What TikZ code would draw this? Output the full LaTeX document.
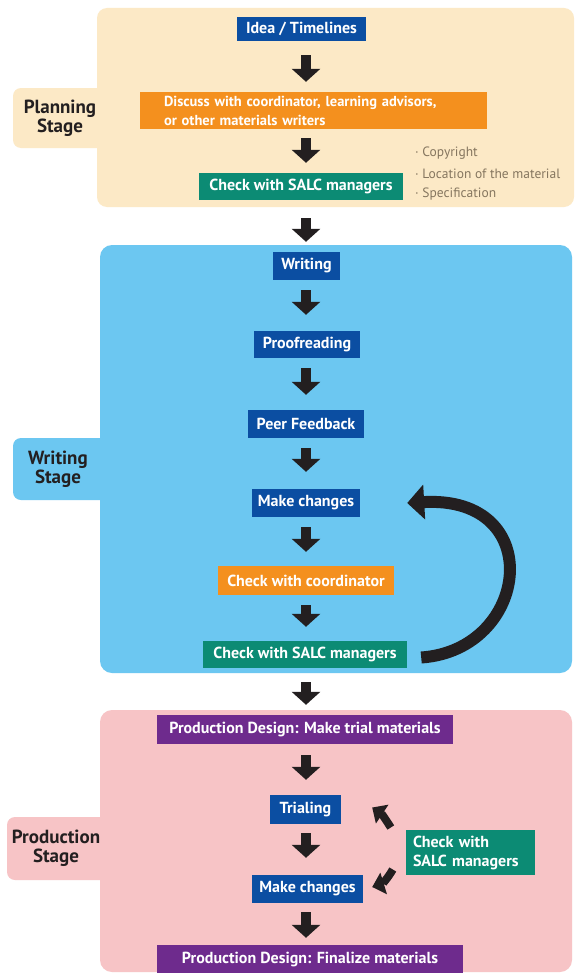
\documentclass[tikz,border=0pt]{standalone}
\usepackage{fontspec}
\setmainfont{PT Sans}
\usetikzlibrary{arrows.meta,calc}
\definecolor{planbg}{HTML}{FCE9C6}
\definecolor{writebg}{HTML}{6CC7F1}
\definecolor{prodbg}{HTML}{F7C4C6}
\definecolor{bluebox}{HTML}{0B4EA2}
\definecolor{orangebox}{HTML}{F4901E}
\definecolor{tealbox}{HTML}{0C8B74}
\definecolor{purplebox}{HTML}{6E2B8D}
\definecolor{darkarrow}{HTML}{231F20}
\definecolor{notegray}{HTML}{85765F}
\tikzset{
  box/.style={rectangle, inner sep=0pt, text=white, font=\bfseries\fontsize{16}{18}\selectfont},
  bluebx/.style={box, fill=bluebox},
  orangebx/.style={box, fill=orangebox},
  tealbx/.style={box, fill=tealbox},
  purplebx/.style={box, fill=purplebox},
  stagelabel/.style={align=center, text=darkarrow, font=\bfseries\fontsize{19}{19}\selectfont},
  blk/.style={draw=darkarrow, line width=10pt, -{Triangle[width=28pt,length=13pt]}, darkarrow},
  bigarr/.style={draw=darkarrow, line width=12pt, -{Triangle[width=34pt,length=17pt]}, darkarrow},
  smallarr/.style={draw=darkarrow, line width=8pt, -{Triangle[width=22pt,length=12pt]}, darkarrow},
  note/.style={anchor=west, text=notegray, font=\fontsize{13.5}{15}\selectfont, inner sep=0pt}
}
\begin{document}
\begin{tikzpicture}[x=1pt,y=-1pt]
\useasboundingbox (0,0) rectangle (574,974);
\fill[white] (0,0) rectangle (574,974);
% panels
\fill[planbg, rounded corners=10pt] (97,8) rectangle (574,207);
\fill[planbg, rounded corners=8pt] (13,88) rectangle (110,148);
\fill[writebg, rounded corners=12pt] (100,245) rectangle (572,673);
\fill[writebg, rounded corners=8pt] (13,438) rectangle (110,500);
\fill[prodbg, rounded corners=12pt] (100,710) rectangle (572,972);
\fill[prodbg, rounded corners=8pt] (7,817) rectangle (110,880);
% stage labels
\node[stagelabel] (lplan) at (60,118) {Planning\\Stage};
\node[stagelabel] (lwrite) at (58,469) {Writing\\Stage};
\node[stagelabel] (lprod) at (56,848) {Production\\Stage};
% column for arrows
\coordinate (col) at (306,0);
% planning
\node[bluebx, minimum width=129pt, minimum height=24pt] (idea) at (301.5,29) {Idea / Timelines};
\node[orangebx, minimum width=347pt, minimum height=37pt, text width=299pt, inner xsep=24pt, align=left,
      font=\bfseries\fontsize{14.5}{19}\selectfont] (discuss) at (313.5,110.5)
      {Discuss with coordinator, learning advisors,\\or other materials writers};
\node[tealbx, minimum width=204pt, minimum height=27pt] (salc1) at (301,186.5) {Check with SALC managers};
\node[note] (n1) at (415,153) {· Copyright};
\node[note] (n2) at (415,174) {· Location of the material};
\node[note] (n3) at (415,194) {· Specification};
% writing
\node[bluebx, minimum width=67pt, minimum height=28pt] (writing) at (306.5,266) {Writing};
\node[bluebx, minimum width=106pt, minimum height=27pt] (proof) at (307,344.5) {Proofreading};
\node[bluebx, minimum width=116pt, minimum height=28pt] (peer) at (306,424) {Peer Feedback};
\node[bluebx, minimum width=108pt, minimum height=28pt] (make1) at (306,503) {Make changes};
\node[orangebx, minimum width=176pt, minimum height=29pt] (coord) at (306,580.5) {Check with coordinator};
\node[tealbx, minimum width=204pt, minimum height=27pt] (salc2) at (305,654.5) {Check with SALC managers};
% production
\node[purplebx, minimum width=296pt, minimum height=29pt] (trial) at (305,729.5) {Production Design: Make trial materials};
\node[bluebx, minimum width=71pt, minimum height=29pt] (trialing) at (305.5,809.5) {Trialing};
\node[bluebx, minimum width=111pt, minimum height=28pt] (make2) at (307.5,889) {Make changes};
\node[purplebx, minimum width=306pt, minimum height=28pt] (final) at (310,959) {Production Design: Finalize materials};
\node[tealbx, minimum width=129pt, minimum height=45pt, text width=115pt, align=left, font=\bfseries\fontsize{16}{19}\selectfont] (salc3) at (470.5,852.5) {Check with\\SALC managers};
% straight arrows
\draw[blk, shorten <=14pt, shorten >=10pt] (col |- idea.south) -- (col |- discuss.north);
\draw[blk, shorten <=9pt, shorten >=10pt] (col |- discuss.south) -- (col |- salc1.north);
\draw[blk, shorten <=18pt, shorten >=10pt] (col |- salc1.south) -- (col |- writing.north);
\draw[blk, shorten <=10pt, shorten >=16pt] (col |- writing.south) -- (col |- proof.north);
\draw[blk, shorten <=10pt, shorten >=15pt] (col |- proof.south) -- (col |- peer.north);
\draw[blk, shorten <=10pt, shorten >=17pt] (col |- peer.south) -- (col |- make1.north);
\draw[blk, shorten <=10pt, shorten >=14pt] (col |- make1.south) -- (col |- coord.north);
\draw[blk, shorten <=10pt, shorten >=14pt] (col |- coord.south) -- (col |- salc2.north);
\draw[blk, shorten <=14pt, shorten >=10pt] (col |- salc2.south) -- (col |- trial.north);
\draw[blk, shorten <=11pt, shorten >=15pt] (col |- trial.south) -- (col |- trialing.north);
\draw[blk, shorten <=9pt, shorten >=17pt] (col |- trialing.south) -- (col |- make2.north);
\draw[blk, shorten <=9pt, shorten >=7pt] (col |- make2.south) -- (col |- final.north);
% loop arrow
\draw[bigarr] ($(salc2.east)+(14,3)$) .. controls (530,650) and (548,495) .. ($(make1.east)+(47,0)$);
% small arrows
\draw[smallarr] ($(salc3.west)+(-15,-25)$) .. controls (386,820) and (382,814) .. ($(trialing.east)+(31,-2)$);
\draw[smallarr] ($(salc3.west)+(-13,17)$) .. controls (388,878) and (382,884) .. ($(make2.east)+(9,-2)$);
\end{tikzpicture}
\end{document}
